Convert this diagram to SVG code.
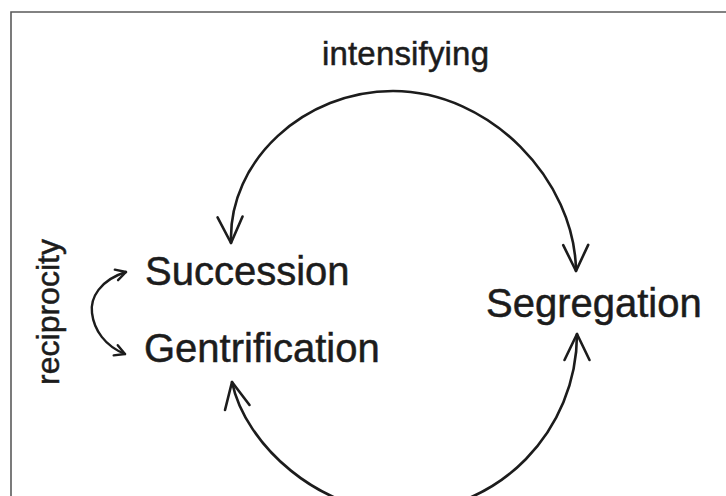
<svg xmlns="http://www.w3.org/2000/svg" width="726" height="496" viewBox="0 0 726 496">
  <style>
    .lbl { font-family: "Liberation Sans", Arial, sans-serif; fill: #1c1c1c; stroke: #1c1c1c; stroke-width: 0.5; }
    .big { font-size: 40px; }
    .small { font-size: 33px; }
    .arc { fill: none; stroke: #1c1c1c; stroke-width: 2.6; stroke-linecap: round; }
    .arcs { fill: none; stroke: #1c1c1c; stroke-width: 2.4; stroke-linecap: round; }
  </style>
  <defs>
    <marker id="head" markerUnits="userSpaceOnUse" viewBox="-30 -16 34 32" refX="0" refY="0" markerWidth="34" markerHeight="32" orient="auto-start-reverse">
      <path d="M -26 -12.5 L 0 0 L -26 12.5" fill="none" stroke="#1c1c1c" stroke-width="2.6" stroke-linecap="round" stroke-linejoin="round"/>
    </marker>
    <marker id="headS" markerUnits="userSpaceOnUse" viewBox="-14 -9 18 18" refX="0" refY="0" markerWidth="18" markerHeight="18" orient="auto-start-reverse">
      <path d="M -10 -5.5 L 0 0 L -10 5.5" fill="none" stroke="#1c1c1c" stroke-width="2.4" stroke-linecap="round" stroke-linejoin="round"/>
    </marker>
  </defs>
  <rect width="726" height="496" fill="#ffffff"/>
  <path d="M 11 496 L 11 12 L 726 12" fill="none" stroke="#5a5a5a" stroke-width="1.6"/>

  <g id="connectors">
    <path class="arc" d="M 231 243 C 228 160, 305 91, 393 91 C 490 91, 575 180, 576 271" marker-start="url(#head)" marker-end="url(#head)"/>
    <path class="arc" d="M 232 382 C 245 445, 320 512, 400 512 C 500 512, 577 430, 577 334" marker-start="url(#head)" marker-end="url(#head)"/>
    <path class="arcs" d="M 126 272 C 100 280, 90 298, 92 313 C 94 330, 105 346, 125 354" marker-start="url(#headS)" marker-end="url(#headS)"/>
  </g>

  <g id="label-intensifying">
    <text class="lbl small" x="322" y="65" textLength="167">intensifying</text>
  </g>
  <g id="label-reciprocity">
    <text class="lbl" font-size="32" transform="translate(59,312) rotate(-90)" text-anchor="middle">reciprocity</text>
  </g>
  <g id="node-succession">
    <text class="lbl big" x="145" y="285">Succession</text>
  </g>
  <g id="node-gentrification">
    <text class="lbl big" x="144" y="362">Gentrification</text>
  </g>
  <g id="node-segregation">
    <text class="lbl big" x="486" y="317">Segregation</text>
  </g>
</svg>
